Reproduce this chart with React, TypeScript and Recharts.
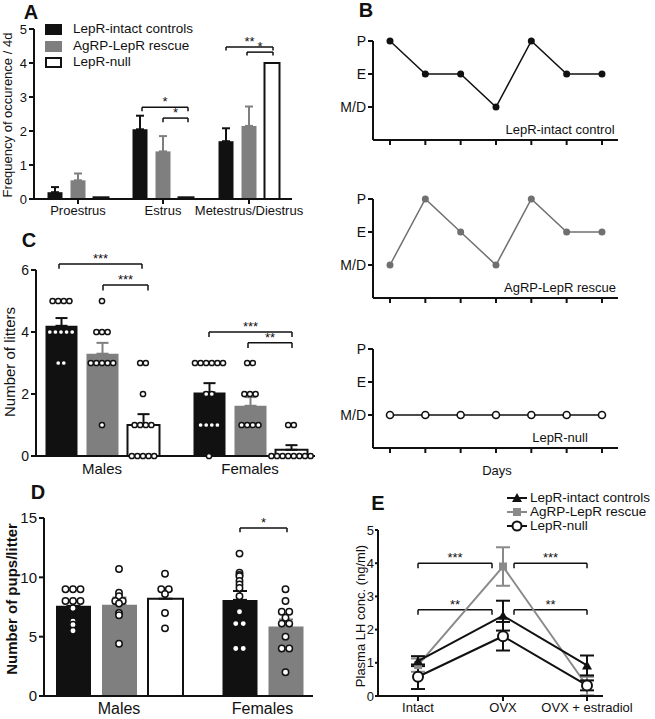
import React from "react";
import {
  ComposedChart,
  Bar,
  Cell,
  ErrorBar,
  Scatter,
  Line,
  XAxis,
  YAxis,
  ReferenceLine,
} from "recharts";

const INK = "#111111";
const GREY = "#7f7f7f";
const FONT = '"Liberation Sans", Arial, Helvetica, sans-serif';

// A: frequency of occurence per 4 days
const cycleStages = ["Proestrus", "Estrus", "Metestrus/Diestrus"];
const freqIntact = [0.2, 2.05, 1.7];
const freqIntactErr = [0.15, 0.4, 0.38];
const freqRescue = [0.55, 1.4, 2.15];
const freqRescueErr = [0.2, 0.45, 0.57];
const freqNull = [0.05, 0.05, 4.0];
const freqNullErr = [0, 0, 0];

// B: representative cycles
const stageLabels = ["M/D", "E", "P"];
const cycleIntact = ["P", "E", "E", "M/D", "P", "E", "E"];
const cycleRescue = ["M/D", "P", "E", "M/D", "P", "E", "E"];
const cycleNull = ["M/D", "M/D", "M/D", "M/D", "M/D", "M/D", "M/D"];

// C: number of litters
const sexes = ["Males", "Females"];
const littersIntact = [4.2, 2.05];
const littersIntactErr = [0.25, 0.3];
const littersRescue = [3.3, 1.62];
const littersRescueErr = [0.35, 0.28];
const littersNull = [1.0, 0.2];
const littersNullErr = [0.35, 0.15];
const littersIntactPts = [
  [5, 5, 5, 5, 4, 4, 4, 4, 4, 3, 3],
  [3, 3, 3, 3, 3, 3, 2, 2, 1, 1, 1, 1, 0],
];
const littersRescuePts = [
  [5, 4, 4, 4, 3, 3, 3, 3, 3, 1],
  [3, 3, 2, 2, 2, 1, 1, 1, 1],
];
const littersNullPts = [
  [3, 3, 2, 1, 1, 1, 1, 0, 0, 0, 0, 0],
  [1, 1, 0, 0, 0, 0, 0, 0, 0, 0],
];

// D: pups per litter (no LepR-null females)
const pupsIntact = [7.6, 8.1];
const pupsIntactErr = [0.4, 0.75];
const pupsRescue = [7.7, 5.85];
const pupsRescueErr = [0.6, 0.6];
const pupsNull = [8.2];
const pupsNullErr = [0.7];
const pupsIntactPts = [
  [9, 9, 9, 8, 8, 8, 7.4, 6.3, 6.0, 5.5],
  [12, 10.4, 10.2, 10.1, 9.7, 9.4, 9.1, 8.4, 7.1, 6.1, 6.1, 4, 4],
];
const pupsRescuePts = [
  [10.7, 8.7, 8.4, 8.0, 8.0, 7.8, 7.0, 6.8, 4.4],
  [9, 8, 7.1, 7.1, 6.6, 6.1, 6.1, 5, 4, 4, 2],
];
const pupsNullPts = [[10.3, 9, 9, 8.6, 7, 5.7]];

// E: plasma LH
const lhConditions = ["Intact", "OVX", "OVX + estradiol"];
const lhIntact = [1.05, 2.42, 0.92];
const lhIntactErr = [0.15, 0.45, 0.3];
const lhRescue = [0.93, 3.9, 0.3];
const lhRescueErr = [0.2, 0.58, 0.28];
const lhNull = [0.58, 1.8, 0.32];
const lhNullErr = [0.37, 0.43, 0.15];

const axisLine = { stroke: INK, strokeWidth: 2 };
const tickLine = { stroke: INK, strokeWidth: 2 };

type Bracket = { x1: number; x2: number; y: number; drop: number; text: string };

function bracketLines(b: Bracket, key: string) {
  const st = { stroke: INK, strokeWidth: 1.5 };
  return [
    <ReferenceLine
      key={key + "h"}
      segment={[{ x: b.x1, y: b.y }, { x: b.x2, y: b.y }]}
      ifOverflow="visible"
      {...st}
      label={{ value: b.text, position: "top", fill: INK, fontSize: 13, offset: 1 }}
    />,
    <ReferenceLine
      key={key + "l"}
      segment={[{ x: b.x1, y: b.y }, { x: b.x1, y: b.y - b.drop }]}
      ifOverflow="visible"
      {...st}
    />,
    <ReferenceLine
      key={key + "r"}
      segment={[{ x: b.x2, y: b.y }, { x: b.x2, y: b.y - b.drop }]}
      ifOverflow="visible"
      {...st}
    />,
  ];
}

// spread equal / close values sideways like a column scatter
function swarm(values: number[], cx: number, pxPerUnit: number, step: number) {
  const placed: { dx: number; py: number; v: number }[] = [];
  for (const v of values) {
    const py = v * pxPerUnit;
    let dx = 0;
    for (let i = 0; i < 60; i++) {
      const cand = (i % 2 === 1 ? 1 : -1) * Math.ceil(i / 2) * step;
      if (placed.every((p) => Math.hypot(p.dx - cand, p.py - py) >= step * 0.98)) {
        dx = cand;
        break;
      }
    }
    placed.push({ dx, py, v });
  }
  const rowsByVal = new Map<number, typeof placed>();
  placed.forEach((p) => rowsByVal.set(p.v, [...(rowsByVal.get(p.v) ?? []), p]));
  rowsByVal.forEach((row) => {
    const m = row.reduce((s, p) => s + p.dx, 0) / row.length;
    row.forEach((p) => (p.dx -= m));
  });
  return placed.map((p) => ({ x: cx + p.dx, y: p.v }));
}

type BarSeries = {
  means: number[];
  errs: number[];
  pts?: number[][];
  fill: string;
  stroke: string;
  errKey: "eDark" | "eGrey";
};

function buildRows(centers: number[], spacing: number, series: BarSeries[]) {
  const rows: any[] = [];
  centers.forEach((c, g) => {
    const present = series.filter((s) => s.means[g] !== undefined);
    present.forEach((s, j) => {
      const x = c + (j - (present.length - 1) / 2) * spacing;
      const e = s.errs[g];
      rows.push({
        x,
        y: s.means[g],
        fill: s.fill,
        stroke: s.stroke,
        [s.errKey]: e > 0 ? [0, e] : undefined,
        pts: s.pts ? s.pts[g] : undefined,
      });
    });
  });
  return rows;
}

type PanelProps = {
  left: number;
  top: number;
  width: number;
  height: number;
  margin: { top: number; right: number; bottom: number; left: number };
  yAxisWidth: number;
  xAxisHeight: number;
  plotW: number;
  plotH: number;
  yMax: number;
  yTicks: number[];
  centers: number[];
  labels: string[];
  spacing: number;
  barSize: number;
  cap: number;
  series: BarSeries[];
  xTickLine: boolean;
  xFont: number;
  yFont: number;
  dotR?: number;
  dotStep?: number;
  brackets?: Bracket[];
};

function BarPanel(p: PanelProps) {
  const rows = buildRows(p.centers, p.spacing, p.series);
  const pxPerUnit = p.plotH / p.yMax;
  const dots = rows.flatMap((r) => (r.pts ? swarm(r.pts, r.x, pxPerUnit, p.dotStep ?? 6) : []));
  const r = p.dotR ?? 3;
  return (
    <div style={{ position: "absolute", left: p.left, top: p.top }}>
      <ComposedChart width={p.width} height={p.height} margin={p.margin} data={rows}>
        <XAxis
          type="number"
          dataKey="x"
          domain={[0, p.plotW]}
          ticks={p.centers}
          interval={0}
          tickFormatter={(v: number) => p.labels[p.centers.indexOf(v)] ?? ""}
          height={p.xAxisHeight}
          axisLine={axisLine}
          tickLine={p.xTickLine ? tickLine : false}
          tickSize={5}
          tick={{ fill: INK, fontSize: p.xFont }}
        />
        <XAxis xAxisId="dots" type="number" dataKey="x" domain={[0, p.plotW]} hide />
        <YAxis
          type="number"
          domain={[0, p.yMax]}
          ticks={p.yTicks}
          interval={0}
          width={p.yAxisWidth}
          axisLine={axisLine}
          tickLine={tickLine}
          tickSize={5}
          tick={{ fill: INK, fontSize: p.yFont }}
        />
        <Bar dataKey="y" barSize={p.barSize} isAnimationActive={false}>
          {rows.map((row, i) => (
            <Cell
              key={i}
              fill={row.fill}
              stroke={row.stroke}
              strokeWidth={row.stroke === "none" ? 0 : 2}
            />
          ))}
          <ErrorBar dataKey="eDark" direction="y" width={p.cap} stroke={INK} strokeWidth={2} />
          <ErrorBar dataKey="eGrey" direction="y" width={p.cap} stroke={GREY} strokeWidth={2} />
        </Bar>
        {dots.length > 0 && (
          <Scatter
            xAxisId="dots"
            data={dots}
            dataKey="y"
            isAnimationActive={false}
            shape={(d: any) => (
              <circle cx={d.cx} cy={d.cy} r={r} fill="#fff" stroke={INK} strokeWidth={1.5} />
            )}
          />
        )}
        {(p.brackets ?? []).flatMap((b, i) => bracketLines(b, "b" + i))}
      </ComposedChart>
    </div>
  );
}

function CyclePanel(props: {
  top: number;
  cycle: string[];
  color: string;
  open?: boolean;
}) {
  const dayPos = props.cycle.map((_, i) => 17 + i * 35.33);
  const rows = props.cycle.map((s, i) => ({ x: dayPos[i], v: stageLabels.indexOf(s) }));
  return (
    <div style={{ position: "absolute", left: 340, top: props.top }}>
      <ComposedChart
        width={315}
        height={135}
        margin={{ top: 16, right: 37, bottom: 8, left: 3 }}
        data={rows}
      >
        <XAxis
          type="number"
          dataKey="x"
          domain={[0, 245]}
          ticks={dayPos}
          interval={0}
          tickFormatter={() => ""}
          height={12}
          axisLine={axisLine}
          tickLine={tickLine}
          tickSize={5}
        />
        <YAxis
          type="number"
          domain={[-1, 2]}
          ticks={[0, 1, 2]}
          interval={0}
          tickFormatter={(v: number) => stageLabels[v] ?? ""}
          width={30}
          axisLine={axisLine}
          tickLine={tickLine}
          tickSize={5}
          tick={{ fill: INK, fontSize: 14 }}
        />
        <Line
          dataKey="v"
          stroke={props.color}
          strokeWidth={1.5}
          isAnimationActive={false}
          dot={(d: any) => (
            <circle
              key={d.index}
              cx={d.cx}
              cy={d.cy}
              r={3.5}
              fill={props.open ? "#fff" : props.color}
              stroke={props.color}
              strokeWidth={props.open ? 1.6 : 0}
            />
          )}
        />
      </ComposedChart>
    </div>
  );
}

const triangleDot = (d: any) => (
  <polygon
    key={d.index}
    points={`${d.cx},${d.cy - 5} ${d.cx + 5},${d.cy + 4} ${d.cx - 5},${d.cy + 4}`}
    fill={INK}
  />
);
const squareDot = (d: any) => (
  <rect key={d.index} x={d.cx - 4} y={d.cy - 4} width={8} height={8} fill="#8a8a8a" />
);
const circleDot = (d: any) => (
  <circle key={d.index} cx={d.cx} cy={d.cy} r={5} fill="#fff" stroke={INK} strokeWidth={2} />
);

function LhPanel() {
  const pos = [40, 125, 209];
  const rows = lhConditions.map((_, i) => ({
    x: pos[i],
    intact: lhIntact[i],
    intactErr: lhIntactErr[i],
    rescue: lhRescue[i],
    rescueErr: lhRescueErr[i],
    nul: lhNull[i],
    nulErr: lhNullErr[i],
  }));
  const brackets: Bracket[] = [
    { x1: 40, x2: 114, y: 4.0, drop: 0.15, text: "***" },
    { x1: 136, x2: 209, y: 4.0, drop: 0.15, text: "***" },
    { x1: 40, x2: 114, y: 2.6, drop: 0.15, text: "**" },
    { x1: 136, x2: 209, y: 2.6, drop: 0.15, text: "**" },
  ];
  return (
    <div style={{ position: "absolute", left: 340, top: 515 }}>
      <ComposedChart
        width={315}
        height={204}
        margin={{ top: 15, right: 52, bottom: 1, left: 14 }}
        data={rows}
      >
        <XAxis
          type="number"
          dataKey="x"
          domain={[0, 225]}
          ticks={pos}
          interval={0}
          tickFormatter={(v: number) => lhConditions[pos.indexOf(v)] ?? ""}
          height={22}
          axisLine={axisLine}
          tickLine={tickLine}
          tickSize={5}
          tick={{ fill: INK, fontSize: 13 }}
        />
        <YAxis
          type="number"
          domain={[0, 5]}
          ticks={[0, 1, 2, 3, 4, 5]}
          interval={0}
          width={24}
          axisLine={axisLine}
          tickLine={tickLine}
          tickSize={3}
          tickMargin={1}
          tick={{ fill: INK, fontSize: 13 }}
        />
        {brackets.flatMap((b, i) => bracketLines(b, "e" + i))}
        <Line dataKey="rescue" stroke="#8a8a8a" strokeWidth={2} dot={squareDot} isAnimationActive={false}>
          <ErrorBar dataKey="rescueErr" direction="y" width={7} stroke="#8a8a8a" strokeWidth={2} />
        </Line>
        <Line dataKey="intact" stroke={INK} strokeWidth={2} dot={triangleDot} isAnimationActive={false}>
          <ErrorBar dataKey="intactErr" direction="y" width={7} stroke={INK} strokeWidth={2} />
        </Line>
        <Line dataKey="nul" stroke={INK} strokeWidth={2} dot={circleDot} isAnimationActive={false}>
          <ErrorBar dataKey="nulErr" direction="y" width={7} stroke={INK} strokeWidth={2} />
        </Line>
      </ComposedChart>
    </div>
  );
}

function Txt(props: {
  x: number;
  y: number;
  size: number;
  bold?: boolean;
  rotate?: boolean;
  start?: boolean;
  children: React.ReactNode;
}) {
  const tx = props.start ? "0" : "-50%";
  return (
    <div
      style={{
        position: "absolute",
        left: props.x,
        top: props.y,
        fontSize: props.size,
        fontWeight: props.bold ? 700 : 400,
        lineHeight: 1,
        whiteSpace: "nowrap",
        transform: `translate(${tx}, -50%)${props.rotate ? " rotate(-90deg)" : ""}`,
      }}
    >
      {props.children}
    </div>
  );
}

function LegendSwatch(props: { y: number; fill: string; border?: boolean }) {
  return (
    <div
      style={{
        position: "absolute",
        left: 45,
        top: props.y - 5,
        width: props.border ? 13 : 17,
        height: props.border ? 7 : 11,
        background: props.fill,
        border: props.border ? `2px solid ${INK}` : "none",
      }}
    />
  );
}

function LhLegendKey(props: { y: number; kind: "tri" | "sq" | "circ" }) {
  const color = props.kind === "sq" ? "#8a8a8a" : INK;
  return (
    <svg style={{ position: "absolute", left: 506, top: props.y - 7 }} width={22} height={14}>
      <line x1={1} y1={7} x2={21} y2={7} stroke={color} strokeWidth={2} />
      {props.kind === "tri" && <polygon points="11,2 16,11 6,11" fill={INK} />}
      {props.kind === "sq" && <rect x={7} y={3} width={8} height={8} fill={color} />}
      {props.kind === "circ" && <circle cx={11} cy={7} r={4.5} fill="#fff" stroke={INK} strokeWidth={2} />}
    </svg>
  );
}

export default function App() {
  const dark = { fill: INK, stroke: "none", errKey: "eDark" as const };
  const grey = { fill: GREY, stroke: "none", errKey: "eGrey" as const };
  const open = { fill: "#ffffff", stroke: INK, errKey: "eDark" as const };

  return (
    <div
      style={{
        position: "absolute",
        left: 0,
        top: 0,
        width: 655,
        height: 719,
        background: "#fff",
        fontFamily: FONT,
        color: INK,
        overflow: "hidden",
      }}
    >
      {/* A */}
      <BarPanel
        left={0}
        top={0}
        width={330}
        height={235}
        margin={{ top: 29, right: 38, bottom: 11, left: 10 }}
        yAxisWidth={24}
        xAxisHeight={25}
        plotW={258}
        plotH={170}
        yMax={5}
        yTicks={[0, 1, 2, 3, 4, 5]}
        centers={[44, 129, 215]}
        labels={cycleStages}
        spacing={23}
        barSize={15}
        cap={4}
        xTickLine
        xFont={13}
        yFont={13}
        series={[
          { ...dark, means: freqIntact, errs: freqIntactErr },
          { ...grey, means: freqRescue, errs: freqRescueErr },
          { ...open, means: freqNull, errs: freqNullErr },
        ]}
        brackets={[
          { x1: 108, x2: 154, y: 2.7, drop: 0.12, text: "*" },
          { x1: 129, x2: 154, y: 2.38, drop: 0.12, text: "*" },
          { x1: 192, x2: 239, y: 4.47, drop: 0.1, text: "**" },
          { x1: 213, x2: 239, y: 4.32, drop: 0.1, text: "*" },
        ]}
      />
      <Txt x={7} y={115} size={13} rotate>
        Frequency of occurence / 4d
      </Txt>
      <LegendSwatch y={29} fill={INK} />
      <LegendSwatch y={45.5} fill={GREY} />
      <LegendSwatch y={62} fill="#fff" border />
      <Txt x={73} y={29} size={13.5} start>
        LepR-intact controls
      </Txt>
      <Txt x={73} y={45.5} size={13.5} start>
        AgRP-LepR rescue
      </Txt>
      <Txt x={73} y={62} size={13.5} start>
        LepR-null
      </Txt>

      {/* B */}
      <CyclePanel top={25} cycle={cycleIntact} color={INK} />
      <CyclePanel top={183} cycle={cycleRescue} color="#707070" />
      <CyclePanel top={333} cycle={cycleNull} color={INK} open />
      <Txt x={560} y={129} size={13}>
        LepR-intact control
      </Txt>
      <Txt x={560} y={287} size={13}>
        AgRP-LepR rescue
      </Txt>
      <Txt x={560} y={437} size={13}>
        LepR-null
      </Txt>
      <Txt x={497} y={470} size={13}>
        Days
      </Txt>

      {/* C */}
      <BarPanel
        left={0}
        top={250}
        width={330}
        height={235}
        margin={{ top: 20, right: 15, bottom: 4, left: 12 }}
        yAxisWidth={24}
        xAxisHeight={25}
        plotW={279}
        plotH={186}
        yMax={6}
        yTicks={[0, 2, 4, 6]}
        centers={[66, 214]}
        labels={sexes}
        spacing={41}
        barSize={32}
        cap={6}
        xTickLine={false}
        xFont={15}
        yFont={14}
        dotR={2.6}
        dotStep={5.6}
        series={[
          { ...dark, means: littersIntact, errs: littersIntactErr, pts: littersIntactPts },
          { ...grey, means: littersRescue, errs: littersRescueErr, pts: littersRescuePts },
          { ...open, means: littersNull, errs: littersNullErr, pts: littersNullPts },
        ]}
        brackets={[
          { x1: 23, x2: 106, y: 6.19, drop: 0.15, text: "***" },
          { x1: 67, x2: 112, y: 5.52, drop: 0.18, text: "***" },
          { x1: 173, x2: 256, y: 4.0, drop: 0.16, text: "***" },
          { x1: 212, x2: 256, y: 3.65, drop: 0.17, text: "**" },
        ]}
      />
      <Txt x={9} y={362} size={15} rotate>
        Number of litters
      </Txt>

      {/* D */}
      <BarPanel
        left={0}
        top={500}
        width={330}
        height={219}
        margin={{ top: 18, right: 17, bottom: 0, left: 14 }}
        yAxisWidth={30}
        xAxisHeight={23}
        plotW={269}
        plotH={178}
        yMax={15}
        yTicks={[0, 5, 10, 15]}
        centers={[75, 218.5]}
        labels={sexes}
        spacing={46}
        barSize={35}
        cap={7}
        xTickLine={false}
        xFont={16}
        yFont={15}
        dotR={3.2}
        dotStep={7.5}
        series={[
          { ...dark, means: pupsIntact, errs: pupsIntactErr, pts: pupsIntactPts },
          { ...grey, means: pupsRescue, errs: pupsRescueErr, pts: pupsRescuePts },
          { ...open, means: pupsNull, errs: pupsNullErr, pts: pupsNullPts },
        ]}
        brackets={[{ x1: 196, x2: 243, y: 14.15, drop: 0.35, text: "*" }]}
      />
      <Txt x={11} y={599} size={15} bold rotate>
        Number of pups/litter
      </Txt>

      {/* E */}
      <LhPanel />
      <Txt x={360} y={616} size={13} rotate>
        Plasma LH conc. (ng/ml)
      </Txt>
      <LhLegendKey y={498} kind="tri" />
      <LhLegendKey y={512} kind="sq" />
      <LhLegendKey y={526} kind="circ" />
      <Txt x={530} y={498} size={13.5} start>
        LepR-intact controls
      </Txt>
      <Txt x={530} y={512} size={13.5} start>
        AgRP-LepR rescue
      </Txt>
      <Txt x={530} y={526} size={13.5} start>
        LepR-null
      </Txt>

      {/* panel letters */}
      <Txt x={31} y={12} size={20} bold>
        A
      </Txt>
      <Txt x={366} y={10} size={20} bold>
        B
      </Txt>
      <Txt x={29} y={240} size={20} bold>
        C
      </Txt>
      <Txt x={38} y={492} size={20} bold>
        D
      </Txt>
      <Txt x={378} y={503} size={20} bold>
        E
      </Txt>
    </div>
  );
}
